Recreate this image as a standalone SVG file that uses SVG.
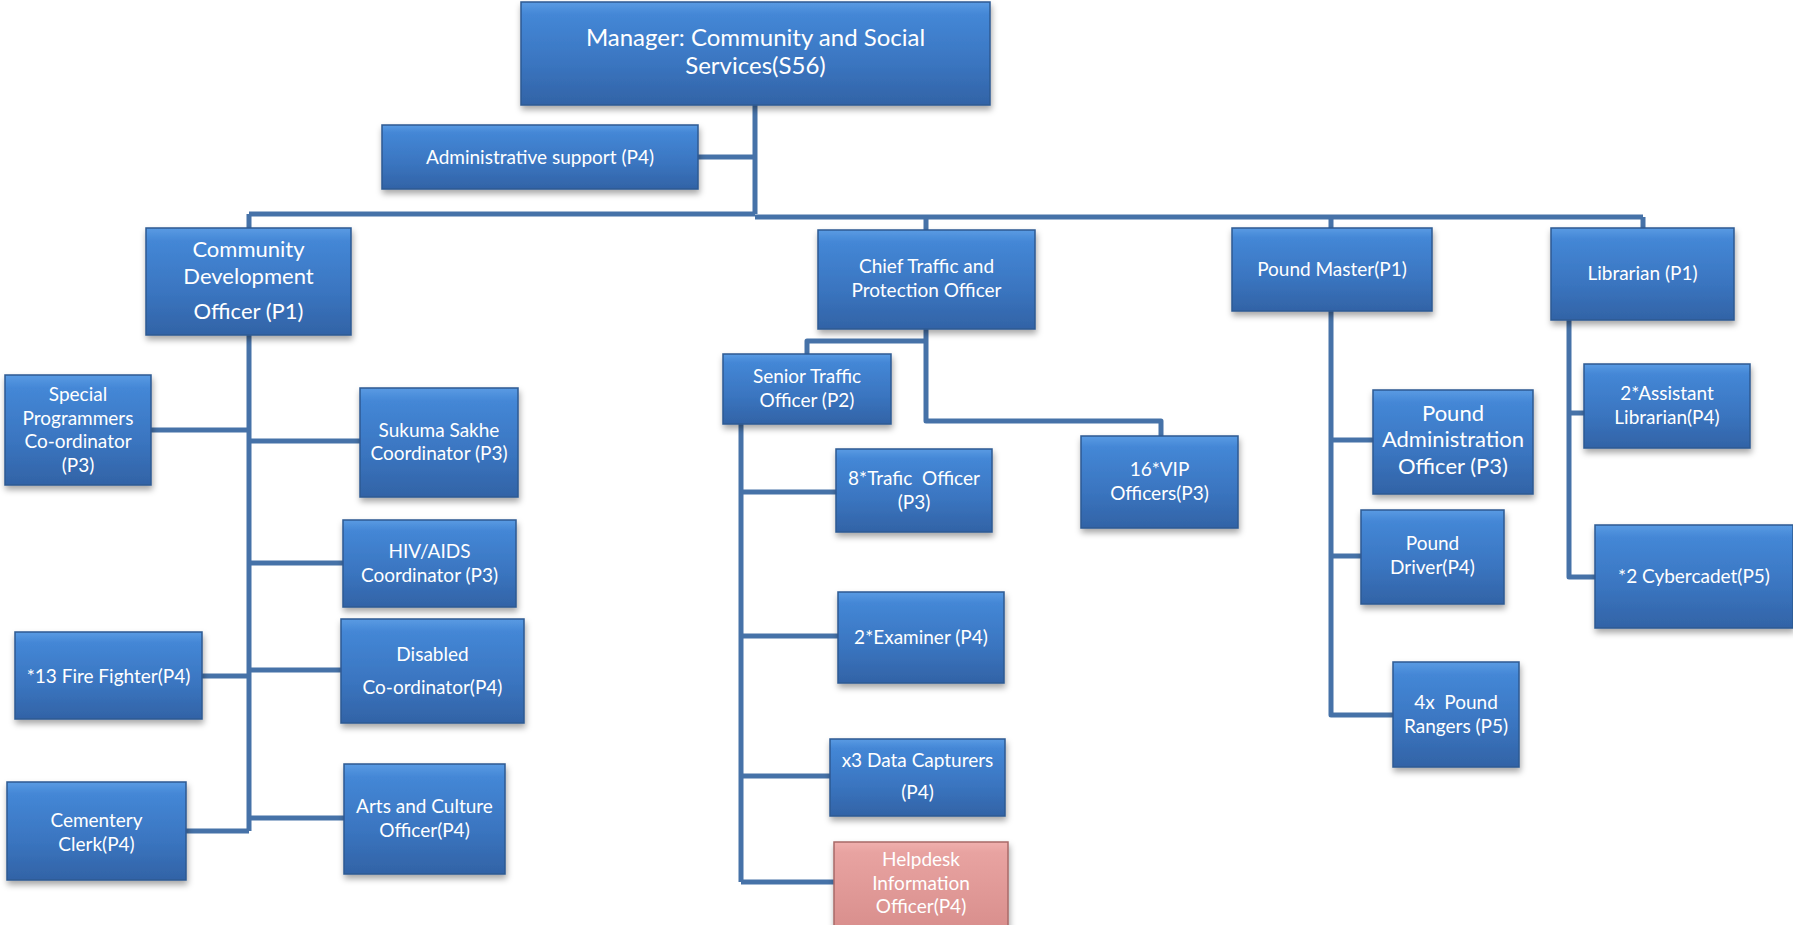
<svg xmlns="http://www.w3.org/2000/svg" width="1793" height="925" viewBox="0 0 1793 925">
<defs>
<linearGradient id="gb" x1="0" y1="0" x2="0" y2="1">
<stop offset="0" stop-color="#5a9be3"/>
<stop offset="0.12" stop-color="#4487d6"/>
<stop offset="0.6" stop-color="#3a75c0"/>
<stop offset="1" stop-color="#3263a6"/>
</linearGradient>
<linearGradient id="gp" x1="0" y1="0" x2="0" y2="1">
<stop offset="0" stop-color="#f0b0ae"/>
<stop offset="0.12" stop-color="#e8a3a1"/>
<stop offset="1" stop-color="#d98f8d"/>
</linearGradient>
<filter id="sh" x="-10%" y="-10%" width="120%" height="130%">
<feDropShadow dx="1" dy="4" stdDeviation="3" flood-color="#000" flood-opacity="0.35"/>
</filter>
</defs>
<style>
.b{fill:url(#gb);stroke:#2c5a92;stroke-width:1.5;filter:url(#sh)}
.p{fill:url(#gp);stroke:#a86a68;stroke-width:1.5;filter:url(#sh)}
.hl{fill:none;stroke:#7fb3ee;stroke-width:2;opacity:0.7}
text{font-family:Lato,"Open Sans","Liberation Sans",sans-serif;fill:#fff;text-anchor:middle;font-size:19px}
.t24{font-size:24px}
.t22{font-size:22px}
.c{fill:none;stroke:#4672a8;stroke-width:5;stroke-linejoin:round}
</style>
<g id="connectors">
<path class="c" d="M755,105V214M698,157H755M249,214H755M249,214V228M755,217H1643M926,217V230M1331,217V228M1643,217V228"/>
<path class="c" d="M926,329V421H1161V436M926,341H807V354"/>
<path class="c" d="M741,424V882M741,492H836M741,636H838M741,776H830M741,882H834"/>
<path class="c" d="M249,335V831M151,430H249M249,441H360M249,563H343M202,676H249M249,670H341M186,831H249M249,818H344"/>
<path class="c" d="M1331,311V715H1393M1331,440H1373M1331,556H1361"/>
<path class="c" d="M1569,320V577H1595M1569,413H1584"/>
</g>
<g id="manager"><rect class="b" x="521" y="2" width="469" height="103"/><text class="t24" x="755.5" y="46">Manager: Community and Social</text><text class="t24" x="755.5" y="74">Services(S56)</text></g>
<g id="admin"><rect class="b" x="382" y="125" width="316" height="64"/><text x="540" y="164">Administrative support (P4)</text></g>
<g id="cdo"><rect class="b" x="146" y="228" width="205" height="107"/><text class="t22" x="248.5" y="257">Community</text><text class="t22" x="248.5" y="284">Development</text><text class="t22" x="248.5" y="319">Officer (P1)</text></g>
<g id="chief"><rect class="b" x="818" y="230" width="217" height="99"/><text x="926.5" y="273">Chief Traffic and</text><text x="926.5" y="297">Protection Officer</text></g>
<g id="poundmaster"><rect class="b" x="1232" y="228" width="200" height="83"/><text x="1332" y="276">Pound Master(P1)</text></g>
<g id="librarian"><rect class="b" x="1551" y="228" width="183" height="92"/><text x="1642.5" y="280">Librarian (P1)</text></g>
<g id="special"><rect class="b" x="5" y="375" width="146" height="110"/><text x="78" y="401">Special</text><text x="78" y="425">Programmers</text><text x="78" y="448">Co-ordinator</text><text x="78" y="472">(P3)</text></g>
<g id="sukuma"><rect class="b" x="360" y="388" width="158" height="109"/><text x="439" y="437">Sukuma Sakhe</text><text x="439" y="460">Coordinator (P3)</text></g>
<g id="hiv"><rect class="b" x="343" y="520" width="173" height="87"/><text x="429.5" y="558">HIV/AIDS</text><text x="429.5" y="582">Coordinator (P3)</text></g>
<g id="fire"><rect class="b" x="15" y="632" width="187" height="87"/><text x="108.5" y="683">*13 Fire Fighter(P4)</text></g>
<g id="disabled"><rect class="b" x="341" y="619" width="183" height="104"/><text x="432.5" y="661">Disabled</text><text x="432.5" y="694">Co-ordinator(P4)</text></g>
<g id="cementery"><rect class="b" x="7" y="782" width="179" height="98"/><text x="96.5" y="827">Cementery</text><text x="96.5" y="851">Clerk(P4)</text></g>
<g id="arts"><rect class="b" x="344" y="764" width="161" height="110"/><text x="424.5" y="813">Arts and Culture</text><text x="424.5" y="837">Officer(P4)</text></g>
<g id="senior"><rect class="b" x="723" y="354" width="168" height="70"/><text x="807" y="383">Senior Traffic</text><text x="807" y="407">Officer (P2)</text></g>
<g id="vip"><rect class="b" x="1081" y="436" width="157" height="92"/><text x="1159.5" y="476">16*VIP</text><text x="1159.5" y="500">Officers(P3)</text></g>
<g id="trafic"><rect class="b" x="836" y="449" width="156" height="83"/><text x="914" y="485" xml:space="preserve">8*Trafic  Officer</text><text x="914" y="509">(P3)</text></g>
<g id="examiner"><rect class="b" x="838" y="592" width="166" height="91"/><text x="921" y="644">2*Examiner (P4)</text></g>
<g id="data"><rect class="b" x="830" y="739" width="175" height="77"/><text x="917.5" y="767">x3 Data Capturers</text><text x="917.5" y="799">(P4)</text></g>
<g id="helpdesk"><rect class="p" x="834" y="842" width="174" height="86"/><text x="921" y="866">Helpdesk</text><text x="921" y="890">Information</text><text x="921" y="913">Officer(P4)</text></g>
<g id="poundadmin"><rect class="b" x="1373" y="390" width="160" height="104"/><text class="t22" x="1453" y="421">Pound</text><text class="t22" x="1453" y="447">Administration</text><text class="t22" x="1453" y="474">Officer (P3)</text></g>
<g id="driver"><rect class="b" x="1361" y="510" width="143" height="94"/><text x="1432.5" y="550">Pound</text><text x="1432.5" y="574">Driver(P4)</text></g>
<g id="rangers"><rect class="b" x="1393" y="662" width="126" height="105"/><text x="1456" y="709" xml:space="preserve">4x  Pound</text><text x="1456" y="733">Rangers (P5)</text></g>
<g id="asstlib"><rect class="b" x="1584" y="364" width="166" height="84"/><text x="1667" y="400">2*Assistant</text><text x="1667" y="424">Librarian(P4)</text></g>
<g id="cyber"><rect class="b" x="1595" y="525" width="198" height="103"/><text x="1694" y="583">*2 Cybercadet(P5)</text></g>
</svg>
